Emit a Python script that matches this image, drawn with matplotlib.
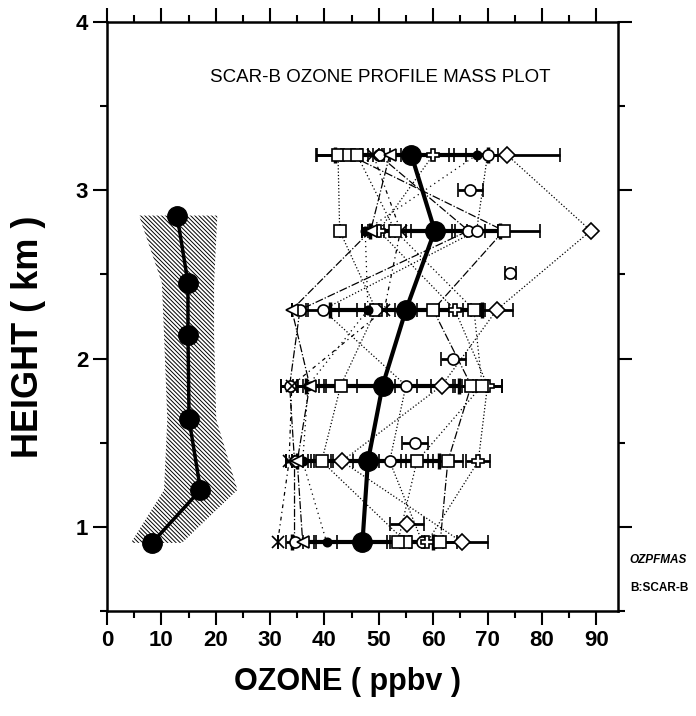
import matplotlib.pyplot as plt
import numpy as np

plt.rcParams['font.family'] = ['Liberation Sans', 'DejaVu Sans']

# heights of the sampling levels (km)
H = [3.21, 2.76, 2.29, 1.84, 1.39, 0.91]

# mean ozone profile (bold line)
mean_o3 = [56.0, 60.3, 55.0, 50.7, 48.0, 47.0]
mean_err = [14, 12, 14, 14, 13, 13]

# individual profiles: values and x errors at each level
p1 = [42.5, 42.8, 49.5, 43.0, 39.5, 55.0]
p1e = [4, 0, 2, 3, 2, 3]
p2 = [50.0, 66.5, 35.5, 33.6, 34.5, 34.5]
p2e = [2, 3, 1.5, 1.6, 1.5, 1.5]
p3 = [68.0, 47.5, 48.0, 37.0, 36.0, 40.4]
p3e = [2, 0.5, 2, 2, 2, 2]
p4 = [73.6, 89.0, 71.7, 61.6, 43.2, 65.3]
p4e = [9.8, 0, 3, 2, 2, 4.8]
p5 = [44.6, 73.0, 60.0, 67.0, 62.7, 61.3]
p5e = [6, 6.7, 3, 3, 2.8, 3]
p6 = [70.0, 68.0, 39.7, 55.0, 52.0, 58.0]
p6e = [2, 4, 3, 2, 2, 2]
p7 = [49.0, 54.0, 51.0, 34.0, 33.5, 31.4]
p7e = [2, 2, 2, 2, 0.5, 0]
p8 = [60.0, 50.0, 64.0, 70.0, 68.3, 58.9]
p8e = [3, 3, 3, 2.7, 2.2, 3]
p9 = [52.0, 48.5, 34.0, 37.3, 35.0, 36.0]
p9e = [2, 1.5, 0, 3, 2, 2]
p10 = [46.0, 53.0, 67.5, 69.0, 57.0, 53.5]
p10e = [3, 2, 2, 3.7, 2, 2]

# single off-level points
iso_x = [66.8, 74.2, 63.7, 56.6, 55.2]
iso_y = [3.00, 2.51, 2.00, 1.50, 1.02]
iso_e = [2.3, 1.0, 2.3, 2.4, 3.1]
iso_m = ['o', 'o', 'o', 'o', 'D']

# low-level profile with hatched range
low_h = [2.85, 2.45, 2.14, 1.64, 1.22, 0.905]
low_o3 = [12.9, 14.9, 14.9, 15.1, 17.2, 8.3]
low_min = [5.9, 10.1, 10.5, 11.1, 10.5, 4.4]
low_max = [20.3, 19.7, 19.7, 20.1, 24.0, 13.8]

fig = plt.figure(figsize=(6.96, 7.16), dpi=100)
ax = fig.add_axes([0.1537, 0.1466, 0.7342, 0.8226])

# hatched band
plt.rcParams['hatch.linewidth'] = 0.7
ax.fill_betweenx(low_h, low_min, low_max, facecolor='none', edgecolor='black',
                 hatch='\\' * 8, linewidth=0)
ax.plot(low_o3, low_h, color='black', lw=2.5, marker='o', ms=14, zorder=5)

profiles = [(p1, p1e, 's', ':'), (p2, p2e, 'o', '-.'), (p3, p3e, '.', (0, (1, 3))),
            (p4, p4e, 'D', ':'), (p5, p5e, 's', '-.'), (p6, p6e, 'o', ':'),
            (p7, p7e, 'x', (0, (3, 3, 1, 3))), (p8, p8e, 'P', ':'),
            (p9, p9e, '<', '-.'), (p10, p10e, 's', (0, (1, 2)))]

for vals, errs, mk, ls in profiles:
    ax.plot(vals, H, color='black', lw=0.9, ls=ls)
    mfc = 'black' if mk == '.' else 'white'
    ax.errorbar(vals, H, xerr=errs, fmt=mk, color='black', mfc=mfc, mec='black',
                ms=8 if mk != '.' else 12, mew=1.2, elinewidth=2, capsize=5, capthick=2)

for x, y, e, m in zip(iso_x, iso_y, iso_e, iso_m):
    ax.errorbar(x, y, xerr=e, fmt=m, color='black', mfc='white',
                ms=8, mew=1.2, elinewidth=2, capsize=5, capthick=2)

# mean profile
ax.errorbar(mean_o3, H, xerr=mean_err, fmt='none', ecolor='black',
            elinewidth=3, capsize=6, capthick=2.5)
ax.plot(mean_o3, H, color='black', lw=3, marker='o', ms=14, zorder=6)

ax.set_xlim(0, 94)
ax.set_ylim(0.5, 4)
ax.set_xticks(np.arange(0, 91, 10))
ax.set_xticks(np.arange(5, 94, 5), minor=True)
ax.set_yticks([1, 2, 3, 4])
ax.set_yticks([0.5, 1.5, 2.5, 3.5], minor=True)
ax.tick_params(which='both', direction='out', top=True, right=True, width=1.5,
               labelsize=16)
ax.tick_params(which='major', length=10)
ax.tick_params(which='minor', length=5)
ax.tick_params(top=True, labeltop=False, right=True, labelright=False)
for lab in ax.get_xticklabels() + ax.get_yticklabels():
    lab.set_fontweight('bold')
for sp in ax.spines.values():
    sp.set_linewidth(1.8)

ax.text(50.2, 3.67, 'SCAR-B OZONE PROFILE MASS PLOT', ha='center', va='center',
        fontsize=13.5)
ax.set_xlabel('OZONE ( ppbv )', fontsize=22, fontweight='bold', labelpad=12)
ax.xaxis.set_label_coords(0.47, -0.095)
ax.set_ylabel('HEIGHT ( km )', fontsize=26, fontweight='bold', labelpad=12)
ax.yaxis.set_label_coords(-0.12, 0.465)

fig.text(0.905, 0.213, 'OZPFMAS', fontsize=8.5, style='italic', fontweight='bold')
fig.text(0.905, 0.174, 'B:SCAR-B', fontsize=8.5, fontweight='bold')

fig.savefig('out.png', dpi=100)
